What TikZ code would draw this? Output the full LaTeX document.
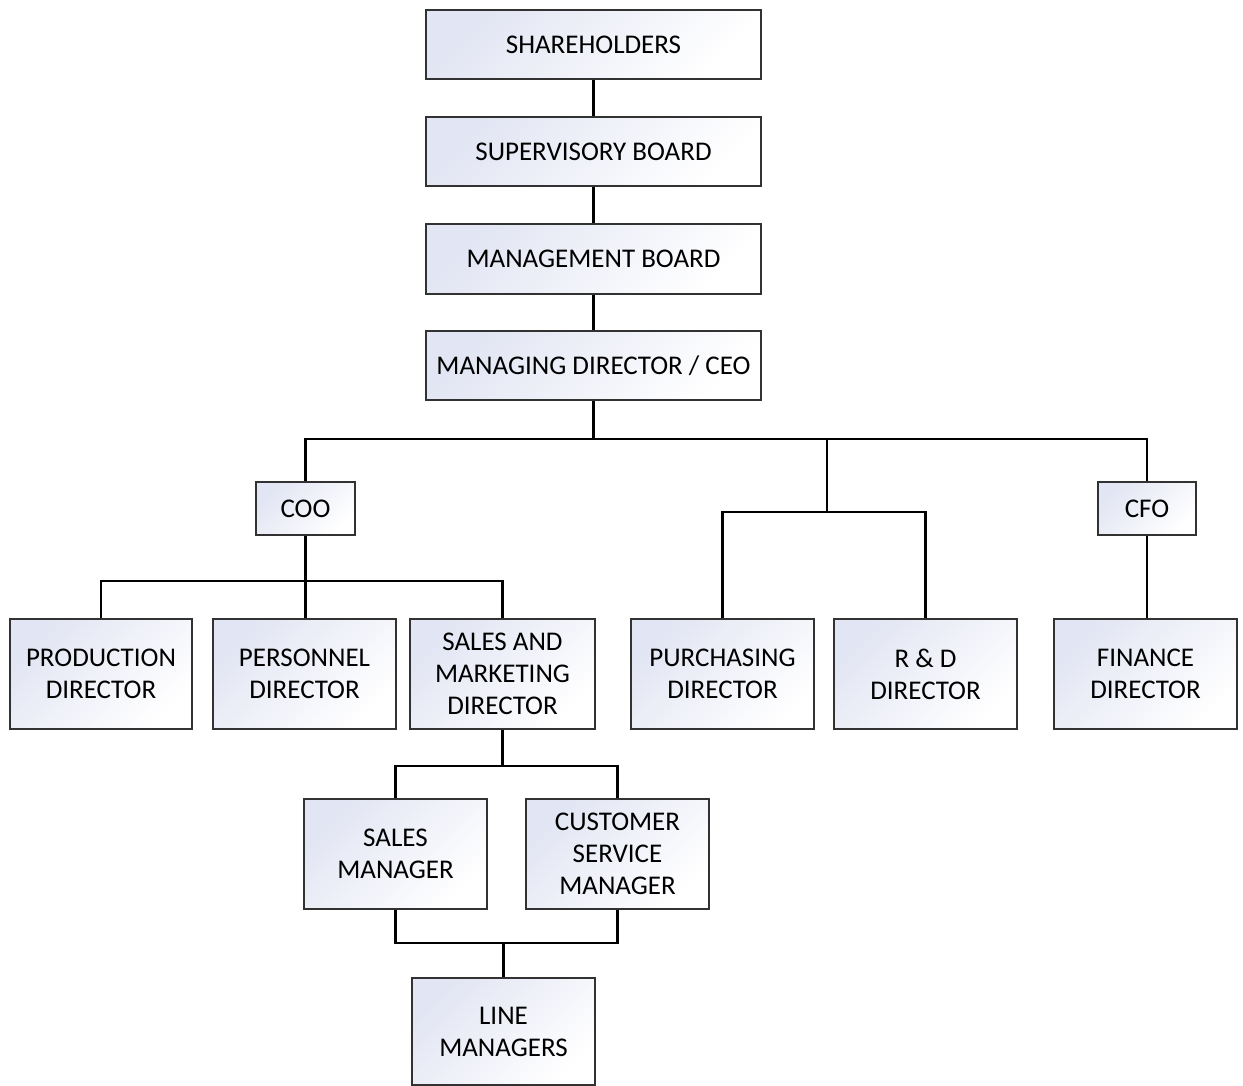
\documentclass[tikz,border=0pt]{standalone}
\usepackage{fontspec}
\setmainfont{Carlito}
\definecolor{boxtint}{RGB}{226,229,243}
\definecolor{boxline}{RGB}{50,50,50}
\tikzset{
  orgbox/.style={draw=boxline, line width=1.5pt, shading=axis, top color=boxtint, bottom color=white, shading angle=45,
    align=center, inner sep=0pt, font=\fontsize{27}{32}\selectfont},
  conn/.style={draw=black, line width=2.2pt}
}
\begin{document}
\begin{tikzpicture}[x=1pt,y=-1pt]
\useasboundingbox (0,0) rectangle (1243,1086);
% top chain
\node[orgbox, minimum width=335pt, minimum height=69pt] (sh) at (593.5,44.5) {SHAREHOLDERS};
\node[orgbox, minimum width=335pt, minimum height=69pt] (sb) at (593.5,151.5) {SUPERVISORY BOARD};
\node[orgbox, minimum width=335pt, minimum height=70pt] (mb) at (593.5,259) {MANAGEMENT BOARD};
\node[orgbox, minimum width=335pt, minimum height=69pt] (ceo) at (593.5,365.5) {MANAGING DIRECTOR / CEO};
% chiefs
\node[orgbox, minimum width=99pt, minimum height=53pt] (coo) at (305.5,508.5) {COO};
\node[orgbox, minimum width=98pt, minimum height=53pt] (cfo) at (1147,508.5) {CFO};
% directors
\node[orgbox, minimum width=182pt, minimum height=110pt] (prod) at (101,674) {PRODUCTION\\DIRECTOR};
\node[orgbox, minimum width=183pt, minimum height=110pt] (pers) at (304.5,674) {PERSONNEL\\DIRECTOR};
\node[orgbox, minimum width=185pt, minimum height=110pt] (smd) at (502.5,674) {SALES AND\\MARKETING\\DIRECTOR};
\node[orgbox, minimum width=183pt, minimum height=110pt] (pur) at (722.5,674) {PURCHASING\\DIRECTOR};
\node[orgbox, minimum width=183pt, minimum height=110pt] (rd) at (925.5,674) {R \& D\\DIRECTOR};
\node[orgbox, minimum width=183pt, minimum height=110pt] (fin) at (1145.5,674) {FINANCE\\DIRECTOR};
% managers
\node[orgbox, minimum width=183pt, minimum height=110pt] (sm) at (395.5,854) {SALES\\MANAGER};
\node[orgbox, minimum width=183pt, minimum height=110pt] (csm) at (617.5,854) {CUSTOMER\\SERVICE\\MANAGER};
\node[orgbox, minimum width=183pt, minimum height=107pt] (lm) at (503.5,1031.5) {LINE\\MANAGERS};
% junction coordinates
\coordinate (jceo) at (593.5,439);
\coordinate (jmid) at (827,439);
\coordinate (jmid2) at (827,512);
\coordinate (jcoo) at (305.5,581);
\coordinate (jsmd) at (502.5,766);
\coordinate (jlm) at (503.5,943);
% connectors
\draw[conn] (sh) -- (sb);
\draw[conn] (sb) -- (mb);
\draw[conn] (mb) -- (ceo);
\draw[conn] (ceo) -- (jceo);
\draw[conn] (coo.north) |- (jceo) -| (cfo.north);
\draw[conn] (jmid) -- (jmid2);
\draw[conn] (pur.north) |- (jmid2) -| (rd.north);
\draw[conn] (coo) -- (jcoo);
\draw[conn] (prod.north) |- (jcoo) -| (smd.north);
\draw[conn] (jcoo) -- (jcoo |- pers.north);
\draw[conn] (cfo.south) -- (cfo.south |- fin.north);
\draw[conn] (smd) -- (jsmd);
\draw[conn] (sm.north) |- (jsmd) -| (csm.north);
\draw[conn] (sm.south) |- (jlm) -| (csm.south);
\draw[conn] (jlm) -- (jlm |- lm.north);
\end{tikzpicture}
\end{document}
